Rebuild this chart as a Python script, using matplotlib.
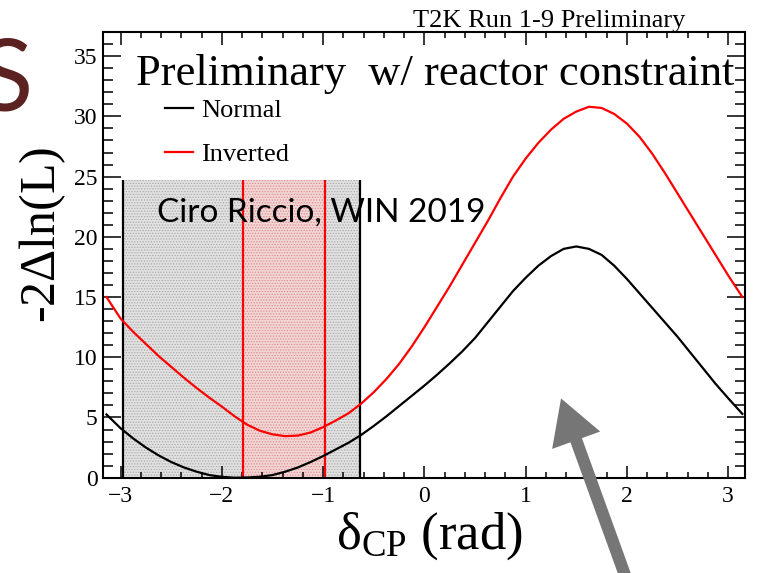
import matplotlib
matplotlib.use("Agg")
import matplotlib.pyplot as plt
from matplotlib.ticker import MultipleLocator

plt.rcParams['font.family'] = ['Liberation Serif', 'DejaVu Serif']
plt.rcParams['mathtext.fontset'] = 'custom'
plt.rcParams['mathtext.rm'] = 'Liberation Serif'
plt.rcParams['mathtext.it'] = 'Liberation Serif:italic'
plt.rcParams['hatch.linewidth'] = 0.6

# -2 delta ln L scan vs delta_CP, normal and inverted ordering
dcp = [-3.14, -3.0, -2.875, -2.75, -2.625, -2.5, -2.375, -2.25, -2.125, -2.0,
       -1.875, -1.75, -1.625, -1.5, -1.375, -1.25, -1.125, -1.0, -0.875, -0.75,
       -0.625, -0.5, -0.375, -0.25, -0.125, 0.0, 0.125, 0.25, 0.375, 0.5,
       0.625, 0.75, 0.875, 1.0, 1.125, 1.25, 1.375, 1.5, 1.625, 1.75,
       1.875, 2.0, 2.125, 2.25, 2.375, 2.5, 2.625, 2.75, 2.875, 3.0, 3.14]
chi2_normal = [5.25, 4.1, 3.25, 2.5, 1.85, 1.3, 0.85, 0.5, 0.22, 0.07,
               0.0, 0.02, 0.08, 0.22, 0.5, 0.85, 1.3, 1.8, 2.35, 2.9,
               3.55, 4.3, 5.1, 5.95, 6.8, 7.65, 8.55, 9.5, 10.5, 11.6,
               12.9, 14.2, 15.5, 16.6, 17.6, 18.4, 19.0, 19.2, 19.0, 18.5,
               17.6, 16.5, 15.3, 14.1, 12.9, 11.7, 10.4, 9.1, 7.8, 6.6, 5.3]
chi2_inverted = [15.0, 13.2, 12.1, 11.1, 10.1, 9.2, 8.3, 7.45, 6.65, 5.9,
                 5.1, 4.4, 3.9, 3.6, 3.45, 3.5, 3.75, 4.2, 4.75, 5.35,
                 6.15, 7.1, 8.2, 9.45, 10.9, 12.5, 14.2, 15.9, 17.7, 19.5,
                 21.3, 23.2, 25.0, 26.5, 27.8, 28.9, 29.8, 30.4, 30.8, 30.7,
                 30.2, 29.4, 28.3, 26.9, 25.3, 23.6, 21.9, 20.2, 18.5, 16.8, 15.0]

# 90% C.L. intervals
ci_normal = [-2.98, -0.634]
ci_inverted = [-1.795, -0.98]
band_top = 24.7

fig = plt.figure(figsize=(7.57, 5.73), dpi=100)
ax = fig.add_axes([0.136, 0.1663, 0.848, 0.7777])

ax.fill_between(ci_normal, 0, band_top, facecolor='#e2e2e2', edgecolor='#a8a8a8',
                hatch='......', linewidth=0, zorder=1)
ax.fill_between(ci_inverted, 0, band_top, facecolor='#f2d6d6', edgecolor='#dc8c8c',
                hatch='......', linewidth=0, zorder=1.5)
ax.vlines(ci_normal, 0, band_top, colors='black', linewidth=1.6, zorder=2)
ax.vlines(ci_inverted, 0, band_top, colors='#ff0000', linewidth=1.6, zorder=2)

ax.plot(dcp, chi2_normal, color='black', linewidth=1.6, label='Normal', zorder=3)
ax.plot(dcp, chi2_inverted, color='#ff0000', linewidth=1.6, label='Inverted', zorder=3)

ax.set_xlim(-3.175, 3.165)
ax.set_ylim(0, 37)
ax.xaxis.set_major_locator(MultipleLocator(1))
ax.xaxis.set_minor_locator(MultipleLocator(0.2))
ax.yaxis.set_major_locator(MultipleLocator(5))
ax.yaxis.set_minor_locator(MultipleLocator(1))
ax.tick_params(which='both', direction='in', top=True, right=True, width=1.1,
               labelsize=17, colors='black')
ax.tick_params(axis='x', which='major', length=9, pad=6)
ax.tick_params(axis='x', which='minor', length=4.5)
ax.tick_params(axis='y', which='major', length=13, pad=4)
ax.tick_params(axis='y', which='minor', length=7)
for s in ax.spines.values():
    s.set_linewidth(1.5)

# axis titles
fig.text(0.568, 0.043, r'$\mathregular{\delta_{CP}}$ (rad)', fontsize=38,
         ha='center', va='baseline')
fig.text(0.057, 0.59, r'-2$\mathregular{\Delta}$ln(L)', fontsize=36, rotation=90,
         ha='center', va='center')

ax.legend(loc='upper left', bbox_to_anchor=(0.097, 0.85), frameon=False,
          fontsize=19, handlelength=1.05, handletextpad=0.3, labelspacing=0.77,
          borderpad=0, borderaxespad=0)

fig.text(0.725, 0.953, 'T2K Run 1-9 Preliminary', fontsize=19, ha='center', va='baseline')
fig.text(0.18, 0.852, 'Preliminary  w/ reactor constraint', fontsize=32, ha='left',
         va='baseline')
fig.text(0.207, 0.613, 'Ciro Riccio, WIN 2019', fontsize=24, family=['Lato', 'DejaVu Sans'],
         ha='left', va='baseline', zorder=5)
fig.text(0.044, 0.808, 'S', fontsize=72, family=['Lato', 'DejaVu Sans'], color='#5c2222',
         ha='right', va='baseline')

ax.annotate('', xy=(1.34, 6.8), xytext=(2.02, -9.0), annotation_clip=False,
            arrowprops=dict(arrowstyle='simple, head_width=2.3, head_length=2.0, tail_width=0.55',
                            mutation_scale=16, color='#767676', linewidth=0),
            zorder=6)

fig.savefig('out.png', dpi=100)
